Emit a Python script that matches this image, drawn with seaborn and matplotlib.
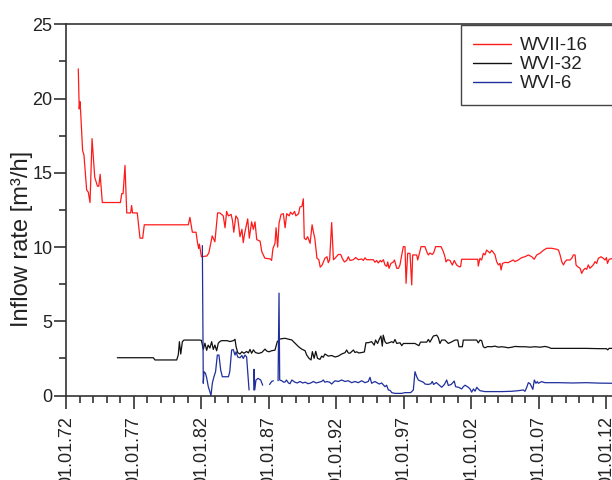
import numpy as np
import pandas as pd
import matplotlib
matplotlib.use("Agg")
import matplotlib.pyplot as plt
from matplotlib.lines import Line2D
from matplotlib.ticker import MultipleLocator
import seaborn as sns

# ---- data: decimal year / inflow rate [m3/h] ----
red_year = [1972.88, 1972.95, 1973.0, 1973.05, 1973.2, 1973.3, 1973.5, 1973.62, 1973.75, 1973.9,
            1974.1, 1974.3, 1974.4, 1974.5, 1974.66, 1976.0, 1976.1, 1976.2, 1976.34, 1976.47,
            1976.76, 1976.83, 1976.9, 1977.25, 1977.45, 1977.65, 1977.77, 1981.03, 1981.15, 1981.33,
            1981.6, 1981.72, 1981.8, 1981.85, 1982.0, 1982.4, 1982.55, 1982.8, 1983.0, 1983.2,
            1983.37, 1983.62, 1983.75, 1983.87, 1984.0, 1984.2, 1984.3, 1984.4, 1984.55, 1984.7,
            1984.86, 1985.0, 1985.1, 1985.2, 1985.43, 1985.55, 1985.72, 1985.85, 1985.97, 1986.1,
            1986.35, 1986.47, 1986.6, 1986.7, 1987.1, 1987.2, 1987.3, 1987.45, 1987.53, 1987.65,
            1987.75, 1987.9, 1988.07, 1988.2, 1988.32, 1988.5, 1988.6, 1988.75, 1988.9, 1989.0,
            1989.2, 1989.3, 1989.45, 1989.55, 1989.62, 1989.75, 1989.87, 1990.05, 1990.2, 1990.3,
            1990.4, 1990.56, 1990.7, 1990.8, 1990.95, 1991.15, 1991.3, 1991.4, 1991.5, 1991.65,
            1991.78, 1991.9, 1992.14, 1992.32, 1992.44, 1992.59, 1992.76, 1992.88, 1993.01, 1993.26,
            1993.43, 1993.62, 1993.87, 1994.0, 1994.12, 1994.24, 1994.73, 1994.86, 1994.98, 1995.10,
            1995.25, 1995.35, 1995.48, 1995.60, 1995.73, 1995.8, 1995.90, 1996.04, 1996.22, 1996.3,
            1996.47, 1996.6, 1996.71, 1996.84, 1996.96, 1997.08, 1997.16, 1997.28, 1997.45, 1997.58,
            1997.65, 1997.95, 1998.02, 1998.12, 1998.27, 1998.56, 1998.69, 1998.81, 1998.93, 1999.10,
            1999.2, 1999.35, 1999.75, 1999.92, 2000.04, 2000.12, 2000.24, 2000.41, 2000.59, 2000.73,
            2000.91, 2001.08, 2001.2, 2001.28, 2002.02, 2002.47, 2002.51, 2002.63, 2002.76, 2002.88,
            2003.0, 2003.13, 2003.25, 2003.37, 2003.5, 2003.62, 2003.75, 2003.87, 2004.0, 2004.12,
            2004.2, 2004.3, 2004.49, 2004.73, 2004.86, 2005.1, 2005.23, 2005.47, 2005.72, 2005.97,
            2006.22, 2006.47, 2006.65, 2006.84, 2007.1, 2007.33, 2007.58, 2007.95, 2008.32, 2008.45,
            2008.57, 2008.69, 2008.82, 2008.94, 2009.06, 2009.3, 2009.43, 2009.55, 2009.68, 2009.75,
            2009.87, 2010.05, 2010.17, 2010.3, 2010.42, 2010.54, 2010.66, 2010.78, 2010.9, 2011.03,
            2011.16, 2011.28, 2011.4, 2011.6, 2011.78, 2011.9, 2012.0, 2012.08, 2012.2, 2012.5]
red_rate = [22.0, 19.3, 19.8, 19.2, 16.5, 16.2, 13.85, 13.7, 13.0, 17.3,
            14.7, 14.1, 14.1, 14.9, 13.0, 13.0, 13.6, 13.6, 15.5, 12.3,
            12.3, 12.8, 12.3, 12.3, 10.6, 10.6, 11.5, 11.5, 12.0, 11.0,
            11.0, 10.25, 9.9, 10.2, 9.35, 9.4, 9.6, 10.75, 10.36, 12.3,
            12.3, 12.1, 11.3, 12.4, 12.1, 12.2, 11.8, 11.0, 12.1, 11.9,
            10.7, 11.2, 10.3, 10.9, 11.9, 10.6, 11.7, 11.2, 11.7, 10.5,
            10.4, 9.7, 9.45, 9.25, 9.2, 9.1, 9.9, 10.25, 11.3, 10.0,
            11.6, 12.2, 12.25, 11.3, 12.25, 12.1, 12.35, 12.2, 12.4, 12.1,
            12.25, 12.7, 12.75, 13.25, 10.6, 10.5, 10.7, 10.25, 11.5, 11.0,
            10.6, 9.25, 9.15, 8.65, 8.8, 9.25, 9.35, 8.95, 9.15, 11.65,
            9.15, 9.25, 9.5, 9.5, 9.24, 9.0, 9.1, 9.35, 9.1, 9.15,
            9.3, 9.15, 9.2, 9.1, 9.28, 9.15, 9.15, 8.98, 9.1, 8.93,
            9.1, 9.0, 9.15, 8.79, 8.7, 9.0, 8.57, 8.9, 9.0, 9.13,
            8.57, 8.57, 8.8, 9.47, 10.03, 10.03, 7.56, 9.58, 9.58, 7.45,
            9.47, 9.47, 9.13, 9.47, 10.03, 10.03, 9.7, 9.47, 9.6, 9.5,
            9.6, 10.03, 10.03, 9.7, 9.35, 9.0, 9.15, 9.1, 8.79, 9.1,
            8.79, 8.68, 8.68, 9.18, 9.18, 9.18, 8.72, 9.24, 9.13, 9.58,
            9.47, 9.8, 9.7, 9.6, 9.78, 9.65, 9.47, 9.02, 8.8, 8.9,
            8.46, 8.9, 8.97, 8.95, 9.02, 9.13, 9.02, 9.13, 9.29, 9.35,
            9.47, 9.35, 9.18, 9.47, 9.6, 9.78, 9.92, 9.92, 9.85, 9.8,
            9.47, 9.02, 8.8, 9.02, 9.13, 9.13, 9.24, 9.47, 9.47, 8.8,
            8.68, 8.57, 8.23, 8.46, 8.57, 8.5, 8.8, 8.57, 8.68, 8.8,
            9.02, 8.9, 9.24, 9.35, 9.24, 9.13, 9.29, 8.9, 9.18, 9.24]

black_year = [1975.77, 1977.95, 1978.44, 1978.56, 1980.17, 1980.29, 1980.37, 1980.47, 1980.59, 1980.71,
              1981.85, 1982.0, 1982.14, 1982.26, 1982.39, 1982.5, 1982.63, 1982.76, 1982.88, 1983.0,
              1983.13, 1983.25, 1983.38, 1983.5, 1983.9, 1984.12, 1984.37, 1984.49, 1984.57, 1984.69,
              1984.86, 1985.0, 1985.15, 1985.35, 1985.48, 1985.6, 1985.72, 1985.85, 1986.0, 1986.22,
              1986.47, 1986.71, 1986.84, 1987.0, 1987.2, 1987.45, 1987.62, 1987.82, 1988.19, 1988.44,
              1988.69, 1988.93, 1989.2, 1989.43, 1989.68, 1989.8, 1989.97, 1990.12, 1990.22, 1990.35,
              1990.47, 1990.6, 1990.78, 1990.91, 1991.03, 1991.15, 1991.4, 1991.65, 1991.9, 1992.14,
              1992.39, 1992.64, 1992.76, 1992.88, 1993.0, 1993.26, 1993.38, 1993.5, 1993.67, 1993.87,
              1994.07, 1994.19, 1994.36, 1994.61, 1994.8, 1994.9, 1995.05, 1995.17, 1995.3, 1995.4,
              1995.47, 1995.6, 1995.72, 1995.9, 1996.1, 1996.22, 1996.34, 1996.47, 1996.71, 1996.84,
              1996.96, 1997.82, 1998.11, 1998.23, 1998.69, 1998.81, 1998.93, 1999.18, 1999.43, 1999.55,
              1999.67, 1999.8, 2000.04, 2000.29, 2000.5, 2000.79, 2000.99, 2001.08, 2001.33, 2001.4,
              2002.39, 2002.51, 2002.64, 2002.76, 2002.88, 2003.0, 2003.2, 2003.5, 2003.75, 2004.0,
              2004.24, 2004.5, 2004.73, 2005.0, 2005.23, 2005.6, 2005.97, 2006.35, 2006.71, 2007.1,
              2007.45, 2007.7, 2007.9, 2009.0, 2010.5, 2011.5, 2012.0, 2012.1, 2012.2, 2012.5]
black_rate = [2.55, 2.55, 2.55, 2.4, 2.4, 2.75, 3.63, 2.8, 3.63, 3.74,
              3.74, 3.72, 3.11, 3.53, 3.05, 3.4, 3.2, 3.63, 3.11, 3.4,
              3.02, 3.53, 3.65, 3.7, 3.7, 3.64, 3.7, 3.79, 3.29, 2.89,
              2.8, 2.95, 2.85, 2.97, 2.87, 3.11, 2.85, 3.08, 2.9, 2.84,
              2.9, 3.13, 3.0, 2.95, 3.02, 3.06, 3.63, 3.81, 3.86, 3.8,
              3.75, 3.53, 3.29, 3.13, 3.02, 2.73, 2.51, 2.4, 2.96, 2.51,
              2.98, 2.51, 2.44, 2.66, 2.58, 2.8, 2.66, 2.7, 2.6, 2.66,
              2.8, 2.89, 3.07, 2.87, 2.85, 3.07, 2.9, 2.95, 2.87, 2.9,
              2.94, 3.56, 3.56, 3.63, 3.4, 3.74, 3.51, 3.78, 4.01, 3.33,
              4.07, 3.63, 3.51, 3.56, 3.63, 3.56, 3.78, 3.51, 3.56, 3.36,
              3.51, 3.51, 3.36, 3.6, 3.6, 3.78, 3.6, 4.01, 4.07, 3.9,
              3.51, 3.74, 3.74, 3.51, 3.6, 3.74, 3.74, 3.29, 3.29, 3.74,
              3.74, 3.55, 3.74, 3.7, 3.29, 3.22, 3.3, 3.29, 3.33, 3.26,
              3.29, 3.26, 3.22, 3.26, 3.31, 3.29, 3.29, 3.26, 3.29, 3.26,
              3.31, 3.26, 3.18, 3.18, 3.18, 3.16, 3.16, 3.08, 3.18, 3.18]

# NaN marks a gap in the record
blue_year = [1982.07, 1982.14, 1982.19, 1982.3, 1982.39, 1982.51, 1982.63, 1982.71, 1982.81, 1982.93,
             1983.05, 1983.18, 1983.3, 1983.43, 1983.55, 1984.0, 1984.1, 1984.24, 1984.36, 1984.49,
             1984.57, 1984.69, 1984.86, 1985.0, 1985.1, 1985.23, 1985.35, 1985.43, 1985.53, 1985.7,
             1985.88, 1985.9, 1985.95, 1986.04, 1986.2, 1986.39, 1986.54, 1986.8,
             1987.05, 1987.2, 1987.33, 1987.5,
             1987.68, 1987.75, 1987.8, 1987.95, 1988.1, 1988.2, 1988.3, 1988.45, 1988.56, 1988.7,
             1988.93, 1989.1, 1989.3, 1989.5, 1989.7, 1989.9, 1990.1, 1990.3, 1990.5, 1990.7,
             1990.9, 1991.03, 1991.15, 1991.3, 1991.5, 1991.65, 1991.78, 1991.9, 1992.14, 1992.39,
             1992.64, 1992.88, 1993.13, 1993.38, 1993.62, 1993.87, 1994.12, 1994.36, 1994.49, 1994.61,
             1994.85, 1995.17, 1995.35, 1995.6, 1995.72, 1995.85, 1995.98, 1996.1, 1996.34, 1996.84,
             1997.08, 1997.5, 1997.7, 1997.82, 1997.95, 1998.07, 1998.3, 1998.45, 1998.56, 1998.8,
             1999.0, 1999.1, 1999.2, 1999.4, 1999.8, 2000.0, 2000.17, 2000.29, 2000.5, 2000.73,
             2000.83, 2001.05, 2001.28, 2001.4, 2001.53, 2001.77, 2001.9, 2002.02, 2002.15, 2002.27,
             2002.4, 2002.5, 2002.64, 2003.0, 2003.6, 2004.24, 2004.98, 2005.47, 2005.84, 2005.97,
             2006.1, 2006.22, 2006.35, 2006.55, 2006.66, 2006.78, 2006.88, 2006.96, 2007.2, 2007.45,
             2008.5, 2009.5, 2010.5, 2011.5, 2012.5]
blue_rate = [10.1, 0.83, 1.61, 1.5, 1.2, 0.6, 0.26, 0.0, 0.83, 1.27,
             1.61, 2.73, 2.73, 1.72, 1.27, 1.27, 1.6, 3.07, 3.1, 2.73,
             2.95, 2.6, 2.55, 2.7, 2.5, 2.73, 2.6, 1.61, 0.38, np.nan,
             0.38, 1.77, 0.38, 1.05, 1.16, 1.05, 0.7, np.nan,
             0.75, 0.95, 1.0, np.nan,
             1.0, 6.9, 1.05, 1.0, 0.9, 0.92, 1.05, 0.85, 0.8, 1.05,
             0.9, 0.85, 0.95, 0.85, 0.9, 0.8, 0.85, 0.95, 0.85, 0.9,
             0.95, 1.05, 0.9, 0.95, 0.9, 0.78, 0.9, 1.0, 0.95, 1.05,
             0.95, 1.0, 0.87, 0.95, 0.87, 1.0, 0.87, 0.95, 1.23, 0.83,
             0.95, 0.78, 0.85, 0.6, 0.7, 0.38, 0.35, 0.2, 0.15, 0.15,
             0.2, 0.2, 0.38, 1.61, 1.27, 1.05, 0.95, 0.9, 0.78, 0.75,
             0.8, 0.95, 0.75, 0.88, 0.56, 0.75, 1.05, 0.68, 0.75, 0.98,
             0.6, 0.56, 0.45, 0.6, 0.7, 0.56, 0.45, 0.23, 0.45, 0.3,
             0.56, 0.45, 0.33, 0.27, 0.27, 0.27, 0.29, 0.33, 0.38, 0.29,
             0.56, 0.87, 0.8, 0.42, 1.05, 0.83, 0.94, 0.83, 0.94, 0.87,
             0.87, 0.85, 0.87, 0.84, 0.83]

series_names = ["WVII-16", "WVI-32", "WVI-6"]
series_colors = ["#ff1a1a", "#111111", "#1f2f9c"]

tick_years = [1972, 1977, 1982, 1987, 1992, 1997, 2002, 2007, 2012]
tick_labels = ["01.01.72", "01.01.77", "01.01.82", "01.01.87", "01.01.92",
               "01.01.97", "01.01.02", "01.01.07", "01.01.12"]


def to_frame(years, rates):
    df = pd.DataFrame({"year": years, "rate": rates})
    # each run between gaps becomes its own drawing unit
    df["seg"] = df["rate"].isna().cumsum()
    return df.dropna()


sns.set_theme(style="ticks")
plt.rcParams["font.family"] = ["Liberation Sans", "DejaVu Sans"]

fig = plt.figure(figsize=(6.12, 4.8), dpi=100)
ax = fig.add_axes([66.4 / 612, (480 - 395.6) / 480, 580.5 / 612, (395.6 - 24.3) / 480])

for (yrs, vals), col in zip([(red_year, red_rate), (black_year, black_rate), (blue_year, blue_rate)],
                            series_colors):
    d = to_frame(yrs, vals)
    sns.lineplot(data=d, x="year", y="rate", units="seg", estimator=None, sort=False,
                 color=col, linewidth=0.9, ax=ax, legend=False)

ax.set_xlim(1972, 2015)
ax.set_ylim(0, 25)

ax.set_xticks(tick_years)
ax.set_xticklabels(tick_labels, rotation=90, fontsize=13, color="#222222")
ax.xaxis.set_minor_locator(MultipleLocator(1))
ax.yaxis.set_major_locator(MultipleLocator(5))
ax.yaxis.set_minor_locator(MultipleLocator(2.5))
for lab in ax.get_yticklabels():
    lab.set_fontsize(13)
    lab.set_color("#222222")

ax.tick_params(which="major", direction="out", length=9, width=1.2, color="#333333")
ax.tick_params(which="minor", direction="out", length=5, width=1.2, color="#333333")
ax.tick_params(axis="y", which="major", pad=1)
ax.tick_params(axis="x", which="major", pad=6)

for side in ["left", "bottom", "top", "right"]:
    ax.spines[side].set_visible(True)
    ax.spines[side].set_color("#333333")
    ax.spines[side].set_linewidth(1.2)

ax.set_xlabel("")
ax.set_ylabel("Inflow rate [m³/h]", fontsize=17, color="#222222")
ax.yaxis.set_label_coords((33 - 66.4) / 580.5, (395.6 - 239) / 371.3)

handles = [Line2D([0], [0], color=c, lw=1.0) for c in series_colors]
leg = ax.legend(handles, series_names, loc="upper left",
                bbox_to_anchor=(461 / 612, 0.78, 0.4, 1 - 25 / 480 - 0.78),
                bbox_transform=fig.transFigure, mode="expand", borderaxespad=0,
                fontsize=13.5, frameon=True, fancybox=False, handlelength=2.03,
                handletextpad=0.48, labelspacing=0.1, borderpad=0.65)
frame = leg.get_frame()
frame.set_edgecolor("#444444")
frame.set_linewidth(1.0)
frame.set_facecolor("white")
frame.set_alpha(1)
for t in leg.get_texts():
    t.set_color("#222222")

fig.savefig("out.png", dpi=100)
